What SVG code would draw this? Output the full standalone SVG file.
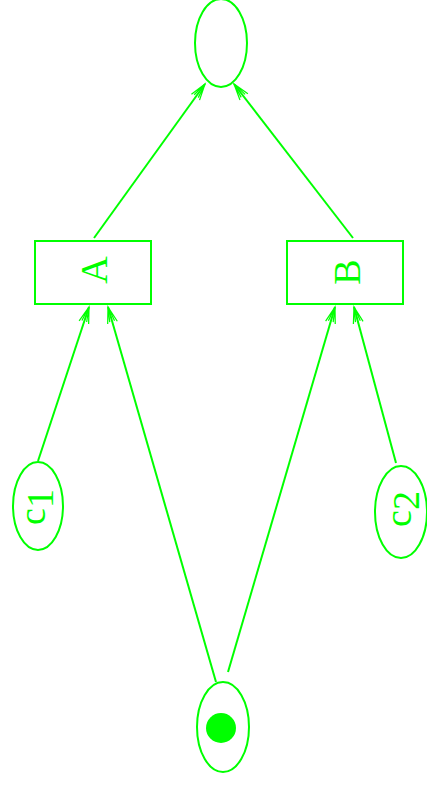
<svg xmlns="http://www.w3.org/2000/svg" width="427" height="785" viewBox="0 0 427 785">
  <style>
    .shape { fill: none; stroke: #00ff00; stroke-width: 2; }
    .edge { fill: none; stroke: #00ff00; stroke-width: 2; }
    .label { fill: #00ff00; font-family: "Liberation Serif", "Times New Roman", serif; font-size: 38px; text-anchor: middle; }
  </style>
  <defs>
    <!-- open vee arrowhead, drawn back from the line end -->
    <marker id="vee" markerUnits="userSpaceOnUse" markerWidth="20" markerHeight="20" refX="0" refY="0" viewBox="-14 -7 16 14" orient="auto" overflow="visible">
      <path d="M-13,-4 L0,0 L-13,4 M-12,-2 L0,0 L-12,2" fill="none" stroke="#00ff00" stroke-width="1"/>
    </marker>
  </defs>

  <rect width="427" height="785" fill="#ffffff"/>

  <g id="edges">
    <line class="edge" x1="94" y1="238" x2="205" y2="84" marker-end="url(#vee)"/>
    <line class="edge" x1="353" y1="238" x2="234" y2="84" marker-end="url(#vee)"/>
    <line class="edge" x1="38" y1="461" x2="89" y2="307" marker-end="url(#vee)"/>
    <line class="edge" x1="216" y1="682" x2="108" y2="307" marker-end="url(#vee)"/>
    <line class="edge" x1="228" y1="672" x2="335" y2="307" marker-end="url(#vee)"/>
    <line class="edge" x1="396" y1="463" x2="354" y2="307" marker-end="url(#vee)"/>
  </g>

  <g id="top">
    <ellipse class="shape" cx="221" cy="43" rx="26" ry="44"/>
  </g>

  <g id="A">
    <rect class="shape" x="35" y="241" width="116" height="63"/>
    <text class="label" transform="translate(107,270) rotate(-90)">A</text>
  </g>

  <g id="B">
    <rect class="shape" x="287" y="241" width="116" height="63"/>
    <text class="label" transform="translate(360,272) rotate(-90)">B</text>
  </g>

  <g id="c1">
    <ellipse class="shape" cx="38" cy="506" rx="25" ry="44"/>
    <text class="label" transform="translate(45,507) rotate(-90)">c<tspan dy="8">1</tspan></text>
  </g>

  <g id="c2">
    <ellipse class="shape" cx="401" cy="512" rx="26" ry="46"/>
    <text class="label" transform="translate(411,509) rotate(-90)">c<tspan dy="8">2</tspan></text>
  </g>

  <g id="start">
    <ellipse class="shape" cx="223" cy="727" rx="26" ry="45"/>
    <circle cx="221" cy="728" r="15" fill="#00ff00"/>
  </g>
</svg>
